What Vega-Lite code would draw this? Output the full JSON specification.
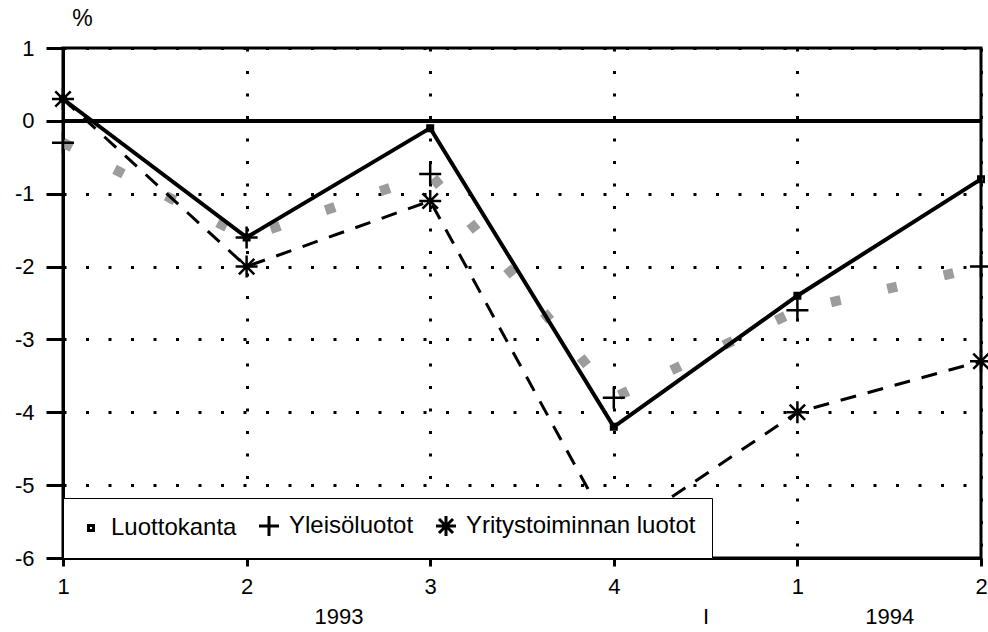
{
  "$schema": "https://vega.github.io/schema/vega-lite/v6.json",
  "width": 918,
  "height": 510,
  "autosize": "none",
  "padding": {"left": 63, "top": 48, "right": 7, "bottom": 74},
  "background": "white",
  "config": {
    "view": {"stroke": "black", "strokeWidth": 3},
    "font": "Liberation Sans",
    "axis": {
      "labelFont": "Liberation Sans",
      "labelColor": "black",
      "labelFontSize": 22,
      "domainColor": "black",
      "domainWidth": 3,
      "tickColor": "black",
      "tickWidth": 3,
      "gridColor": "black",
      "gridDash": [3, 19.5],
      "gridWidth": 3,
      "gridOpacity": 1,
      "labelFlush": false,
      "labelOverlap": false
    }
  },
  "data": {
    "values": [
      {"q": 0, "series": "Luottokanta", "value": 0.3},
      {"q": 1, "series": "Luottokanta", "value": -1.6},
      {"q": 2, "series": "Luottokanta", "value": -0.1},
      {"q": 3, "series": "Luottokanta", "value": -4.2},
      {"q": 4, "series": "Luottokanta", "value": -2.4},
      {"q": 5, "series": "Luottokanta", "value": -0.8},
      {"q": 0, "series": "Yleisöluotot", "value": -0.3},
      {"q": 1, "series": "Yleisöluotot", "value": -1.6},
      {"q": 2, "series": "Yleisöluotot", "value": -0.73},
      {"q": 3, "series": "Yleisöluotot", "value": -3.8},
      {"q": 4, "series": "Yleisöluotot", "value": -2.6},
      {"q": 5, "series": "Yleisöluotot", "value": -2.0},
      {"q": 0, "series": "Yritystoiminnan luotot", "value": 0.3},
      {"q": 1, "series": "Yritystoiminnan luotot", "value": -2.0},
      {"q": 2, "series": "Yritystoiminnan luotot", "value": -1.1},
      {"q": 3, "series": "Yritystoiminnan luotot", "value": -5.7},
      {"q": 4, "series": "Yritystoiminnan luotot", "value": -4.0},
      {"q": 5, "series": "Yritystoiminnan luotot", "value": -3.3}
    ]
  },
  "layer": [
    {
      "transform": [{"filter": "datum.series === 'Yleisöluotot'"}],
      "mark": {"type": "line", "color": "#9c9c9c", "strokeWidth": 10, "strokeDash": [10, 48], "strokeCap": "butt"},
      "encoding": {
        "x": {
          "field": "q", "type": "quantitative",
          "scale": {"domain": [0, 5], "nice": false, "zero": false},
          "axis": {
            "orient": "bottom",
            "values": [0, 1, 2, 3, 4, 5],
            "labelExpr": "['1','2','3','4','1','2'][datum.value]",
            "title": null,
            "grid": true,
            "gridColor": "black",
            "gridDash": [3, 19.5],
            "gridWidth": 3,
            "tickSize": 8,
            "tickWidth": 3,
            "tickColor": "black",
            "domainWidth": 3,
            "domainColor": "black",
            "labelFontSize": 22,
            "labelFont": "Liberation Sans",
            "labelColor": "black",
            "labelPadding": 10
          }
        },
        "y": {
          "field": "value", "type": "quantitative",
          "scale": {"domain": [-6, 1], "nice": false, "zero": false},
          "axis": {
            "values": [-6, -5, -4, -3, -2, -1, 0, 1],
            "labelExpr": "datum.value < 0 ? '-' + (-datum.value) : '' + datum.value",
            "title": "%",
            "titleAngle": 0,
            "titleX": 19,
            "titleY": -30,
            "titleFontSize": 23,
            "titleFontWeight": "normal",
            "titleFont": "Liberation Sans",
            "titleColor": "black",
            "titleAlign": "center",
            "titleBaseline": "middle",
            "grid": true,
            "gridColor": "black",
            "gridDash": [3, 19.5],
            "gridWidth": 3,
            "tickSize": 17,
            "tickWidth": 3,
            "tickColor": "black",
            "domainWidth": 3,
            "domainColor": "black",
            "labelFontSize": 22,
            "labelFont": "Liberation Sans",
            "labelColor": "black",
            "labelPadding": 12
          }
        }
      }
    },
    {
      "mark": {"type": "rule", "color": "black", "strokeWidth": 3},
      "encoding": {"y": {"datum": 0, "type": "quantitative"}}
    },
    {
      "transform": [{"filter": "datum.series === 'Yritystoiminnan luotot'"}],
      "mark": {"type": "line", "color": "black", "strokeWidth": 3, "strokeDash": [16, 12]},
      "encoding": {
        "x": {
          "field": "q", "type": "quantitative",
          "axis": {
            "orient": "bottom",
            "values": [1.5, 3.5, 4.5],
            "labelExpr": "datum.value == 1.5 ? '1993' : (datum.value == 3.5 ? 'I' : '1994')",
            "title": null,
            "grid": false,
            "domain": false,
            "ticks": false,
            "tickSize": 0,
            "labelFontSize": 22,
            "labelFont": "Liberation Sans",
            "labelColor": "black",
            "labelPadding": 48
          }
        },
        "y": {"field": "value", "type": "quantitative"}
      }
    },
    {
      "transform": [{"filter": "datum.series === 'Luottokanta'"}],
      "mark": {"type": "line", "color": "black", "strokeWidth": 4},
      "encoding": {
        "x": {"field": "q", "type": "quantitative", "axis": null},
        "y": {"field": "value", "type": "quantitative"}
      }
    },
    {
      "mark": {"type": "point", "filled": false, "color": "black", "strokeWidth": 2.5, "size": 484, "opacity": 1},
      "encoding": {
        "x": {"field": "q", "type": "quantitative", "axis": null},
        "y": {"field": "value", "type": "quantitative"},
        "shape": {
          "field": "series", "type": "nominal",
          "scale": {
            "domain": ["Luottokanta", "Yleisöluotot", "Yritystoiminnan luotot"],
            "range": [
              "M-0.25,-0.25L0.25,-0.25L0.25,0.25L-0.25,0.25Z",
              "M-1,0L1,0M0,-1L0,1",
              "M-1,0L1,0M0,-1L0,1M-0.7,-0.7L0.7,0.7M-0.7,0.7L0.7,-0.7"
            ]
          },
          "legend": {
            "title": null,
            "orient": "bottom-left",
            "offset": 0,
            "direction": "horizontal",
            "columns": 3,
            "padding": 16,
            "fillColor": "white",
            "strokeColor": "black",
            "labelFont": "Liberation Sans",
            "labelFontSize": 24,
            "labelColor": "black",
            "labelLimit": 400,
            "labelOffset": 8,
            "columnPadding": 16,
            "symbolSize": 400,
            "symbolStrokeWidth": 3,
            "symbolStrokeColor": "black",
            "encode": {
              "legend": {"update": {"strokeWidth": {"value": 3}}},
              "symbols": {
                "enter": {
                  "shape": {"signal": "datum.value === 'Luottokanta' ? 'M-0.9,-0.15L0.9,-0.15L0.9,0.15L-0.9,0.15ZM-0.35,-0.3L0.35,-0.3L0.35,0.3L-0.35,0.3Z' : (datum.value === 'Yleisöluotot' ? 'M-1,0L1,0M0,-1L0,1' : 'M-1,0L1,0M0,-1L0,1M-0.7,-0.7L0.7,0.7M-0.7,0.7L0.7,-0.7')"},
                  "fill": {"signal": "datum.value === 'Luottokanta' ? 'black' : 'transparent'"}
                },
                "update": {
                  "shape": {"signal": "datum.value === 'Luottokanta' ? 'M-0.9,-0.15L0.9,-0.15L0.9,0.15L-0.9,0.15ZM-0.35,-0.3L0.35,-0.3L0.35,0.3L-0.35,0.3Z' : (datum.value === 'Yleisöluotot' ? 'M-1,0L1,0M0,-1L0,1' : 'M-1,0L1,0M0,-1L0,1M-0.7,-0.7L0.7,0.7M-0.7,0.7L0.7,-0.7')"},
                  "fill": {"signal": "datum.value === 'Luottokanta' ? 'black' : 'transparent'"}
                }
              }
            }
          }
        }
      }
    }
  ],
  "resolve": {"axis": {"x": "independent"}}
}
